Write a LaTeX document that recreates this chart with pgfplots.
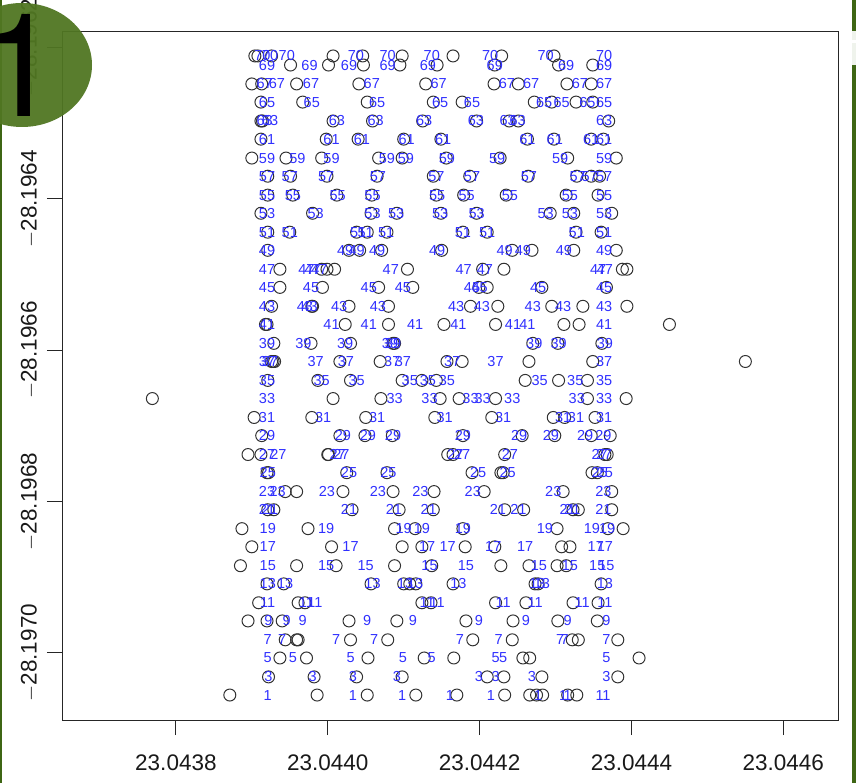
\documentclass[border=0pt]{standalone}
\usepackage{pgfplots}
\usepackage{fontspec}
\setmainfont{Liberation Sans}
\newfontfamily\badgefont{TeX Gyre Heros}
\pgfplotsset{compat=1.18}
\definecolor{lblue}{RGB}{48,48,255}
\definecolor{cgrey}{RGB}{50,50,50}
\definecolor{strip}{RGB}{62,102,20}
\definecolor{blob}{RGB}{80,118,34}
% the values differ only in the last digits, too fine for pgfplots floats, so:
% x = 23.04 + v*1e-6,  y = -28.19 - w*1e-6
\pgfplotsset{
  lab/.style={only marks,mark=none,point meta=explicit symbolic,
    nodes near coords={\pgfplotspointmeta},nodes near coords align={center},
    nodes near coords style={inner sep=0pt,text=lblue,font=\fontsize{14.5}{15}\selectfont}},
}
\begin{document}
\begin{tikzpicture}[x=1pt,y=1pt]
\useasboundingbox (0,0) rectangle (856,783);
\begin{axis}[
  at={(62pt,63pt)},anchor=south west,
  scale only axis,width=776pt,height=689pt,
  xmin=3650,xmax=4672,ymin=6178,ymax=7089,y dir=reverse,
  xtick={3800,4000,4200,4400,4600},
  xticklabels={23.0438,23.0440,23.0442,23.0444,23.0446},
  ytick={6200,6400,6600,6800,7000},
  yticklabels={$-$28.1962,$-$28.1964,$-$28.1966,$-$28.1968,$-$28.1970},
  xtick pos=bottom,ytick pos=left,tick align=outside,
  major tick length=15pt,
  tick style={black!85,line width=0.9pt},
  axis line style={black!85,line width=0.9pt},
  tick label style={font=\fontsize{22.5}{24}\selectfont,black!90},
  xticklabel shift=16pt,
  yticklabel style={rotate=90,anchor=south,yshift=0pt},
  yticklabel shift=5pt,
  clip=false,
]
\addplot[only marks,mark=o,mark size=6pt,mark options={draw=cgrey,line width=1pt}] coordinates {
(3904,6211) (3908,6211) (3926,6211) (4007,6211) (4046,6211) (4098,6211) (4165,6211) (4229,6211) (4298,6211)
(3951,6223) (4001,6223) (4047,6223) (4095,6223) (4144,6223) (4220,6223) (4304,6223) (4349,6223)
(3900,6248) (3913,6248) (3959,6248) (4041,6248) (4129,6248) (4219,6248) (4251,6248) (4315,6248) (4347,6248)
(3912,6272) (3967,6272) (4052,6272) (4139,6272) (4177,6272) (4272,6272) (4295,6272) (4327,6272) (4349,6272)
(3912,6297) (3914,6297) (4007,6297) (4059,6297) (4125,6297) (4196,6297) (4239,6297) (4251,6297) (4370,6297)
(3912,6321) (3998,6321) (4040,6321) (4100,6321) (4149,6321) (4263,6321) (4298,6321) (4347,6321) (4363,6321)
(3900,6346) (3945,6346) (3992,6346) (4067,6346) (4098,6346) (4156,6346) (4227,6346) (4316,6346) (4380,6346)
(3921,6370) (3951,6370) (3999,6370) (4065,6370) (4139,6370) (4187,6370) (4264,6370) (4328,6370) (4347,6370) (4358,6370)
(3921,6395) (3954,6395) (4012,6395) (4058,6395) (4143,6395) (4179,6395) (4235,6395) (4314,6395) (4356,6395)
(3912,6419) (3980,6419) (4057,6419) (4091,6419) (4149,6419) (4196,6419) (4293,6419) (4324,6419) (4374,6419)
(3921,6444) (3950,6444) (4038,6444) (4052,6444) (4078,6444) (4178,6444) (4210,6444) (4327,6444) (4360,6444)
(3921,6468) (4028,6468) (4042,6468) (4071,6468) (4150,6468) (4243,6468) (4269,6468) (4324,6468) (4380,6468)
(3937,6493) (3992,6493) (3999,6493) (4009,6493) (4105,6493) (4204,6493) (4232,6493) (4388,6493) (4394,6493)
(3937,6517) (3993,6517) (4067,6517) (4112,6517) (4199,6517) (4210,6517) (4282,6517) (4367,6517)
(3926,6542) (3979,6542) (3980,6542) (4028,6542) (4080,6542) (4188,6542) (4224,6542) (4295,6542) (4336,6542) (4394,6542)
(3918,6566) (3920,6566) (4023,6566) (4080,6566) (4153,6566) (4221,6566) (4311,6566) (4331,6566) (4450,6566)
(3929,6591) (3978,6591) (4030,6591) (4086,6591) (4088,6591) (4270,6591) (4303,6591) (4361,6591)
(3926,6615) (3928,6615) (3930,6615) (4016,6615) (4069,6615) (4157,6615) (4177,6615) (4265,6615) (4349,6615) (4550,6615)
(3921,6640) (3987,6640) (4030,6640) (4098,6640) (4124,6640) (4143,6640) (4260,6640) (4304,6640) (4342,6640)
(3769,6664) (4007,6664) (4070,6664) (4148,6664) (4173,6664) (4221,6664) (4342,6664) (4393,6664)
(3903,6689) (3979,6689) (4050,6689) (4141,6689) (4216,6689) (4297,6689) (4312,6689) (4352,6689)
(3913,6713) (4016,6713) (4049,6713) (4085,6713) (4178,6713) (4256,6713) (4299,6713) (4347,6713) (4372,6713)
(3895,6738) (3912,6738) (4000,6738) (4001,6738) (4158,6738) (4165,6738) (4233,6738) (4365,6738) (4368,6738)
(3920,6762) (3922,6762) (4025,6762) (4078,6762) (4190,6762) (4228,6762) (4231,6762) (4348,6762) (4355,6762)
(3944,6787) (3959,6787) (4020,6787) (4086,6787) (4140,6787) (4206,6787) (4310,6787) (4374,6787)
(3921,6811) (3929,6811) (4032,6811) (4094,6811) (4139,6811) (4233,6811) (4258,6811) (4323,6811) (4330,6811) (4374,6811)
(3887,6836) (3974,6836) (4088,6836) (4115,6836) (4178,6836) (4302,6836) (4369,6836) (4389,6836)
(3900,6860) (4005,6860) (4098,6860) (4124,6860) (4181,6860) (4220,6860) (4308,6860) (4319,6860)
(3885,6885) (3959,6885) (4011,6885) (4088,6885) (4137,6885) (4228,6885) (4265,6885) (4302,6885) (4314,6885)
(3920,6909) (3942,6909) (4057,6909) (4100,6909) (4108,6909) (4116,6909) (4165,6909) (4273,6909) (4277,6909) (4360,6909)
(3909,6934) (3961,6934) (3970,6934) (4124,6934) (4136,6934) (4221,6934) (4261,6934) (4323,6934) (4356,6934)
(3895,6958) (3920,6958) (3940,6958) (4028,6958) (4091,6958) (4182,6958) (4244,6958) (4303,6958) (4355,6958)
(3944,6983) (3959,6983) (3961,6983) (4030,6983) (4079,6983) (4191,6983) (4243,6983) (4322,6983) (4330,6983) (4382,6983)
(3937,7007) (3972,7007) (4053,7007) (4127,7007) (4166,7007) (4257,7007) (4266,7007) (4410,7007)
(3922,7032) (3982,7032) (4038,7032) (4098,7032) (4210,7032) (4232,7032) (4282,7032) (4382,7032)
(3871,7056) (3986,7056) (4052,7056) (4116,7056) (4170,7056) (4233,7056) (4266,7056) (4275,7056) (4283,7056) (4316,7056) (4328,7056)
};
\addplot[lab] coordinates {
(3914,6211) [70] (3924,6211) [70] (3946,6211) [70] (4037,6211) [70] (4079,6211) [70] (4137,6211) [70] (4214,6211) [70] (4287,6211) [70] (4364,6211) [70]
(3920,6223) [69] (3976,6223) [69] (4028,6223) [69] (4079,6223) [69] (4132,6223) [69] (4220,6223) [69] (4314,6223) [69] (4364,6223) [69]
(3917,6248) [67] (3933,6248) [67] (3978,6248) [67] (4058,6248) [67] (4146,6248) [67] (4236,6248) [67] (4268,6248) [67] (4332,6248) [67] (4364,6248) [67]
(3920,6272) [65] (3979,6272) [65] (4065,6272) [65] (4148,6272) [65] (4190,6272) [65] (4285,6272) [65] (4308,6272) [65] (4342,6272) [65] (4364,6272) [65]
(3917,6297) [63] (3924,6297) [63] (4012,6297) [63] (4063,6297) [63] (4127,6297) [63] (4195,6297) [63] (4237,6297) [63] (4250,6297) [63] (4364,6297) [63]
(3920,6321) [61] (4005,6321) [61] (4045,6321) [61] (4104,6321) [61] (4152,6321) [61] (4263,6321) [61] (4299,6321) [61] (4347,6321) [61] (4364,6321) [61]
(3920,6346) [59] (3960,6346) [59] (4005,6346) [59] (4078,6346) [59] (4103,6346) [59] (4157,6346) [59] (4223,6346) [59] (4306,6346) [59] (4364,6346) [59]
(3920,6370) [57] (3950,6370) [57] (3998,6370) [57] (4066,6370) [57] (4143,6370) [57] (4190,6370) [57] (4265,6370) [57] (4329,6370) [57] (4345,6370) [57] (4364,6370) [57]
(3920,6395) [55] (3954,6395) [55] (4013,6395) [55] (4059,6395) [55] (4144,6395) [55] (4183,6395) [55] (4240,6395) [55] (4319,6395) [55] (4364,6395) [55]
(3920,6419) [53] (3984,6419) [53] (4059,6419) [53] (4090,6419) [53] (4148,6419) [53] (4196,6419) [53] (4287,6419) [53] (4319,6419) [53] (4364,6419) [53]
(3920,6444) [51] (3950,6444) [51] (4040,6444) [51] (4050,6444) [51] (4077,6444) [51] (4178,6444) [51] (4210,6444) [51] (4328,6444) [51] (4364,6444) [51]
(3920,6468) [49] (4023,6468) [49] (4038,6468) [49] (4065,6468) [49] (4144,6468) [49] (4233,6468) [49] (4257,6468) [49] (4311,6468) [49] (4364,6468) [49]
(3920,6493) [47] (3972,6493) [47] (3980,6493) [47] (3989,6493) [47] (4083,6493) [47] (4179,6493) [47] (4207,6493) [47] (4356,6493) [47] (4365,6493) [47]
(3920,6517) [45] (3978,6517) [45] (4054,6517) [45] (4099,6517) [45] (4190,6517) [45] (4200,6517) [45] (4277,6517) [45] (4364,6517) [45]
(3920,6542) [43] (3970,6542) [43] (3976,6542) [43] (4015,6542) [43] (4066,6542) [43] (4169,6542) [43] (4203,6542) [43] (4270,6542) [43] (4310,6542) [43] (4364,6542) [43]
(3920,6566) [41] (4005,6566) [41] (4054,6566) [41] (4115,6566) [41] (4172,6566) [41] (4244,6566) [41] (4263,6566) [41] (4364,6566) [41]
(3920,6591) [39] (3968,6591) [39] (4023,6591) [39] (4082,6591) [39] (4086,6591) [39] (4272,6591) [39] (4304,6591) [39] (4365,6591) [39]
(3920,6615) [37] (3924,6615) [37] (3984,6615) [37] (4024,6615) [37] (4085,6615) [37] (4099,6615) [37] (4164,6615) [37] (4221,6615) [37] (4364,6615) [37]
(3920,6640) [35] (3992,6640) [35] (4038,6640) [35] (4108,6640) [35] (4132,6640) [35] (4157,6640) [35] (4279,6640) [35] (4326,6640) [35] (4364,6640) [35]
(3920,6664) [33] (4088,6664) [33] (4134,6664) [33] (4188,6664) [33] (4204,6664) [33] (4243,6664) [33] (4328,6664) [33] (4364,6664) [33]
(3920,6689) [31] (3994,6689) [31] (4065,6689) [31] (4154,6689) [31] (4231,6689) [31] (4310,6689) [31] (4327,6689) [31] (4364,6689) [31]
(3920,6713) [29] (4020,6713) [29] (4053,6713) [29] (4086,6713) [29] (4178,6713) [29] (4252,6713) [29] (4294,6713) [29] (4339,6713) [29] (4363,6713) [29]
(3920,6738) [27] (3935,6738) [27] (4018,6738) [27] (4013,6738) [27] (4168,6738) [27] (4177,6738) [27] (4240,6738) [27] (4358,6738) [27] (4364,6738) [27]
(3921,6762) [25] (4028,6762) [25] (4080,6762) [25] (4198,6762) [25] (4237,6762) [25] (4358,6762) [25] (4365,6762) [25]
(3920,6787) [23] (3934,6787) [23] (3999,6787) [23] (4066,6787) [23] (4122,6787) [23] (4191,6787) [23] (4297,6787) [23] (4363,6787) [23]
(3920,6811) [21] (3924,6811) [21] (4028,6811) [21] (4087,6811) [21] (4133,6811) [21] (4224,6811) [21] (4251,6811) [21] (4316,6811) [21] (4322,6811) [21] (4363,6811) [21]
(3921,6836) [19] (3998,6836) [19] (4100,6836) [19] (4124,6836) [19] (4178,6836) [19] (4286,6836) [19] (4348,6836) [19] (4368,6836) [19]
(3921,6860) [17] (4030,6860) [17] (4131,6860) [17] (4158,6860) [17] (4218,6860) [17] (4260,6860) [17] (4353,6860) [17] (4365,6860) [17]
(3921,6885) [15] (3998,6885) [15] (4050,6885) [15] (4134,6885) [15] (4182,6885) [15] (4278,6885) [15] (4319,6885) [15] (4355,6885) [15] (4367,6885) [15]
(3921,6909) [13] (3944,6909) [13] (4059,6909) [13] (4102,6909) [13] (4115,6909) [13] (4172,6909) [13] (4276,6909) [13] (4282,6909) [13] (4365,6909) [13]
(3921,6934) [11] (3972,6934) [11] (3983,6934) [11] (4131,6934) [11] (4144,6934) [11] (4231,6934) [11] (4273,6934) [11] (4335,6934) [11] (4365,6934) [11]
(3922,6958) [9] (3946,6958) [9] (3967,6958) [9] (4052,6958) [9] (4112,6958) [9] (4199,6958) [9] (4261,6958) [9] (4316,6958) [9] (4367,6958) [9]
(3921,6983) [7] (3940,6983) [7] (4011,6983) [7] (4061,6983) [7] (4174,6983) [7] (4225,6983) [7] (4306,6983) [7] (4312,6983) [7] (4367,6983) [7]
(3921,7007) [5] (3954,7007) [5] (4030,7007) [5] (4099,7007) [5] (4137,7007) [5] (4221,7007) [5] (4231,7007) [5] (4367,7007) [5]
(3922,7032) [3] (3980,7032) [3] (4033,7032) [3] (4091,7032) [3] (4199,7032) [3] (4221,7032) [3] (4269,7032) [3] (4367,7032) [3]
(3921,7056) [1] (4033,7056) [1] (4098,7056) [1] (4161,7056) [1] (4215,7056) [1] (4277,7056) [1] (4310,7056) [1] (4316,7056) [1] (4358,7056) [1] (4367,7056) [1]
};
\end{axis}
% slide furniture: edge strips and the numbered badge
\begin{scope}
\clip (0,0) rectangle (856,783);
\fill[strip] (0,0) rectangle (2,783);
\fill[strip] (852,0) rectangle (856,783);
\fill[white!92!strip] (852,718) rectangle (856,752);
\fill[white] (852,740) rectangle (856,743);
\fill[blob,fill opacity=0.95] (22,718) ellipse [x radius=70,y radius=62];
\node[anchor=base,inner sep=0pt,font=\badgefont\fontsize{144}{144}\selectfont,text=black] at (21,666) {1};
\end{scope}
\end{tikzpicture}
\end{document}
